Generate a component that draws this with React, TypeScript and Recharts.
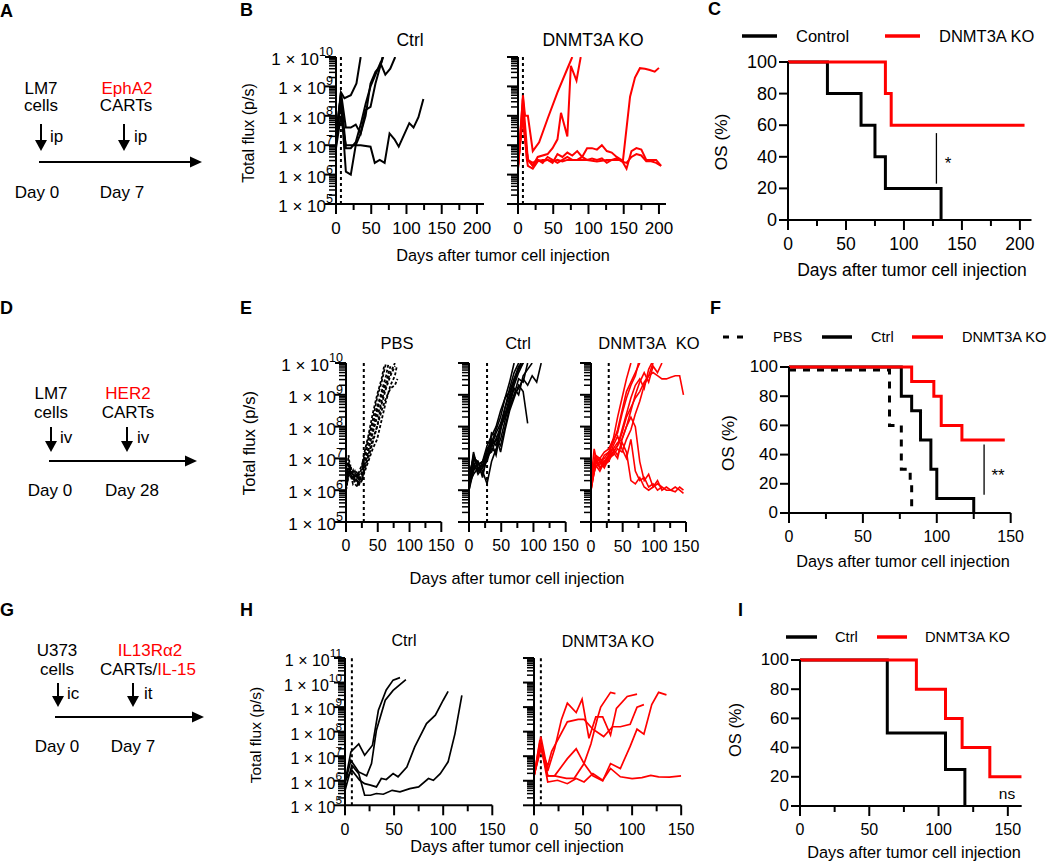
import { LineChart, Line, XAxis, YAxis, ReferenceLine } from 'recharts'

const FONT = '"Liberation Sans", Arial, Helvetica, sans-serif'
const RED = '#ff0000'
const INK = '#000'

// Bioluminescence curves, one array per mouse: [day, log10 total flux (p/s)]
// B: LM7 ip, EphA2 CARTs
const bCtrl = [
  [[0, 7.3], [7, 8.8], [12, 8.6], [21, 8.7], [29, 9.1], [35, 10]],
  [[0, 7.0], [7, 8.8], [14, 7.6], [21, 7.6], [28, 7.7], [35, 7.4], [42, 8.2], [49, 8.3], [56, 9.1], [63, 9.7], [67, 10]],
  [[0, 7.4], [7, 8.7], [14, 6.9], [21, 6.9], [28, 7.1], [35, 7.7], [42, 8.4], [49, 9.0], [56, 9.4], [63, 9.8], [70, 9.4], [77, 9.6], [84, 10]],
  [[0, 7.1], [7, 8.5], [14, 6.1], [21, 6.0], [28, 7.0], [35, 7.4], [42, 8.0], [49, 9.1], [56, 9.5], [63, 9.7], [66, 10]],
  [[0, 6.9], [7, 8.0], [14, 7.0], [20, 7.0], [35, 7.0], [49, 6.95], [55, 6.4], [62, 6.5], [69, 6.4], [76, 7.4], [83, 7.2], [89, 6.95], [104, 7.75], [110, 7.6], [117, 7.95], [124, 8.57]],
]
const bKo = [
  [[0, 6.2], [7, 8.7], [10, 8.0], [14, 8.0], [21, 6.8], [30, 7.1], [42, 7.9], [56, 8.8], [70, 9.6], [77, 10]],
  [[0, 6.3], [7, 8.1], [10, 7.3], [14, 6.5], [21, 6.3], [28, 6.6], [42, 6.7], [49, 6.9], [56, 7.2], [61, 8.1], [70, 7.3], [75, 9.7], [83, 9.2], [89, 10]],
  [[0, 6.3], [7, 8.0], [10, 7.2], [14, 6.5], [21, 6.4], [28, 6.5], [35, 6.4], [42, 6.6], [49, 6.5], [56, 6.4], [63, 6.5], [70, 6.6], [77, 6.5], [84, 6.5], [91, 6.6], [98, 6.9], [105, 6.9], [112, 6.85], [119, 7.0], [126, 6.8], [133, 6.75], [140, 6.6], [147, 6.5], [154, 6.2], [161, 6.8], [168, 6.9], [175, 6.85], [182, 6.5], [189, 6.5], [196, 6.5], [203, 6.3]],
  [[0, 6.2], [7, 8.3], [12, 6.6], [14, 6.3], [21, 6.2], [28, 6.45], [35, 6.5], [42, 6.5], [49, 6.4], [56, 6.7], [63, 6.6], [70, 6.75], [77, 6.65], [84, 6.8], [91, 6.6], [98, 6.5], [105, 6.55], [112, 6.5], [119, 6.55], [126, 6.4], [133, 6.5], [140, 6.55], [147, 6.45], [154, 6.4], [161, 6.6], [168, 6.7], [175, 6.65], [182, 6.45], [189, 6.45], [196, 6.4], [203, 6.3]],
  [[0, 6.3], [7, 8.6], [14, 6.5], [21, 6.3], [28, 6.5], [35, 6.45], [42, 6.5], [49, 6.45], [56, 6.5], [63, 6.45], [70, 6.5], [84, 6.5], [98, 6.5], [112, 6.45], [126, 6.5], [140, 6.5], [149, 6.5], [159, 8.65], [166, 9.3], [173, 9.62], [180, 9.6], [187, 9.56], [194, 9.5], [200, 9.63]],
]

// E: LM7 iv, HER2 CARTs
const ePbs = [
  [[0, 6.1], [4, 6.8], [7, 6.5], [11, 6.6], [14, 6.4], [18, 6.5], [21, 6.3], [25, 6.6], [28, 6.9], [35, 7.5], [42, 8.1], [49, 8.6], [56, 9.1], [63, 9.6], [67, 10]],
  [[0, 6.2], [4, 6.6], [7, 6.7], [11, 6.4], [14, 6.5], [18, 6.2], [21, 6.4], [25, 6.5], [28, 6.7], [35, 7.2], [42, 7.9], [49, 8.5], [56, 9.0], [63, 9.4], [70, 9.9]],
  [[0, 6.3], [4, 7.1], [7, 6.6], [11, 6.5], [14, 6.3], [18, 6.4], [21, 6.6], [25, 6.8], [28, 7.0], [35, 7.6], [42, 8.2], [49, 8.9], [56, 9.4], [63, 10]],
  [[0, 6.0], [4, 6.5], [7, 6.4], [11, 6.6], [14, 6.2], [18, 6.1], [21, 6.3], [25, 6.4], [28, 6.6], [35, 7.0], [42, 7.5], [49, 8.0], [56, 8.7], [63, 9.2], [70, 9.6], [77, 9.9]],
  [[0, 6.2], [4, 6.7], [7, 6.5], [11, 6.3], [14, 6.4], [18, 6.3], [21, 6.2], [25, 6.5], [28, 6.8], [35, 7.3], [42, 7.8], [49, 8.3], [56, 8.8], [63, 9.3], [70, 9.7], [77, 10]],
  [[0, 6.1], [4, 6.4], [7, 6.8], [11, 6.4], [14, 6.5], [18, 6.6], [21, 6.4], [25, 6.3], [28, 6.5], [35, 6.9], [42, 7.3], [49, 7.6], [56, 8.2], [63, 8.8], [70, 9.3], [77, 9.6], [80, 9.9]],
  [[0, 6.3], [4, 6.9], [7, 6.6], [11, 6.5], [14, 6.6], [18, 6.4], [21, 6.5], [25, 6.7], [28, 7.1], [35, 7.7], [42, 8.4], [49, 9.0], [56, 9.5], [60, 9.9]],
  [[0, 6.0], [4, 6.6], [7, 6.5], [11, 6.2], [14, 6.3], [18, 6.5], [21, 6.2], [25, 6.3], [28, 6.6], [35, 7.1], [42, 7.6], [49, 8.0], [56, 8.5], [63, 8.9], [70, 9.2], [77, 9.3], [81, 9.5]],
]
const eCtrl = [
  [[0, 6.0], [7, 6.8], [14, 6.6], [21, 6.7], [28, 7.0], [35, 7.5], [42, 7.9], [49, 8.3], [56, 8.9], [63, 9.4], [70, 10]],
  [[0, 6.1], [7, 7.0], [14, 6.7], [21, 6.5], [28, 7.0], [35, 7.3], [42, 7.2], [49, 7.9], [56, 8.6], [63, 9.2], [70, 9.7], [77, 10]],
  [[0, 6.3], [7, 7.1], [14, 6.8], [21, 6.9], [28, 7.2], [35, 7.6], [42, 7.4], [49, 8.0], [56, 8.4], [63, 8.9], [70, 9.5], [77, 9.8], [84, 10]],
  [[0, 6.0], [7, 6.6], [14, 6.9], [21, 6.6], [28, 6.2], [35, 6.9], [42, 7.3], [49, 7.6], [56, 8.2], [63, 8.8], [70, 9.3], [77, 9.7], [84, 10]],
  [[0, 6.2], [7, 7.2], [14, 6.6], [21, 6.8], [28, 7.1], [35, 7.2], [42, 7.6], [49, 7.4], [56, 8.0], [63, 8.6], [70, 9.0], [77, 9.5], [84, 9.4], [91, 10]],
  [[0, 6.4], [7, 6.9], [14, 6.5], [21, 6.7], [28, 7.3], [35, 7.5], [42, 7.1], [49, 7.9], [56, 8.4], [63, 8.7], [70, 9.2], [77, 9.0], [84, 9.6], [91, 9.8], [98, 10]],
  [[0, 6.1], [7, 6.7], [14, 6.8], [21, 6.9], [28, 7.0], [35, 7.8], [42, 7.7], [49, 7.2], [56, 7.9], [63, 8.5], [70, 8.9], [77, 9.3], [84, 9.1], [91, 8.1]],
  [[0, 6.5], [7, 7.0], [14, 6.9], [21, 6.4], [28, 7.1], [35, 7.4], [42, 7.6], [49, 8.0], [56, 8.3], [63, 8.6], [70, 9.0], [77, 9.2], [84, 9.5], [91, 9.3], [98, 9.6], [105, 9.4], [112, 10]],
  [[0, 6.2], [7, 6.5], [14, 6.7], [21, 6.8], [28, 6.9], [35, 7.4], [42, 7.8], [49, 8.1], [56, 8.6], [63, 9.0], [70, 9.4], [77, 9.8], [80, 10]],
  [[0, 6.3], [7, 6.8], [14, 6.6], [21, 6.9], [28, 7.4], [35, 7.7], [42, 8.0], [49, 8.5], [56, 8.9], [63, 9.1], [70, 9.5], [77, 9.9], [84, 10]],
]
const eKo = [
  [[0, 6.0], [7, 7.0], [14, 6.7], [21, 6.8], [28, 7.1], [35, 7.6], [42, 8.3], [49, 8.9], [56, 9.5], [63, 10]],
  [[0, 6.2], [7, 7.1], [14, 6.9], [21, 7.0], [28, 7.2], [35, 7.5], [42, 7.9], [49, 8.5], [56, 9.1], [63, 9.4], [70, 9.7], [77, 10]],
  [[0, 6.1], [7, 6.9], [14, 7.0], [21, 6.8], [28, 6.9], [35, 7.2], [42, 7.4], [49, 7.9], [56, 8.4], [63, 8.9], [70, 9.3], [77, 9.5], [84, 9.2], [91, 9.8], [96, 10]],
  [[0, 6.3], [5, 7.3], [10, 6.8], [14, 6.9], [21, 6.7], [28, 7.0], [35, 7.2], [42, 7.0], [49, 7.6], [56, 8.0], [63, 8.5], [70, 9.0], [77, 9.4], [84, 9.7], [91, 9.4], [98, 9.9], [105, 9.7], [112, 10]],
  [[0, 6.0], [7, 6.8], [14, 7.0], [21, 6.9], [28, 7.1], [35, 7.2], [42, 7.4], [49, 7.8], [56, 8.3], [63, 8.6], [70, 8.9], [77, 9.1], [84, 9.4], [91, 9.6], [98, 9.7], [105, 9.6], [112, 9.5], [119, 9.5], [126, 9.55], [133, 9.6], [140, 9.6], [146, 9.0]],
  [[0, 6.1], [7, 6.9], [14, 6.8], [21, 7.1], [28, 7.2], [35, 7.3], [42, 7.1], [49, 7.5], [56, 7.2], [63, 6.3], [70, 6.2], [77, 6.4], [84, 6.1], [91, 6.0], [98, 6.1], [105, 6.2], [112, 6.1]],
  [[0, 6.2], [7, 7.0], [14, 6.7], [21, 6.9], [28, 7.0], [35, 7.4], [42, 7.7], [49, 7.3], [56, 7.0], [63, 7.6], [70, 6.6], [77, 6.3], [84, 6.4], [91, 6.1], [98, 6.2], [105, 6.0], [112, 6.1], [119, 6.0], [126, 6.0], [133, 6.1], [140, 6.0], [146, 5.9]],
  [[0, 6.0], [7, 6.8], [14, 6.6], [21, 6.9], [28, 7.1], [35, 7.3], [42, 7.5], [49, 7.6], [56, 8.0], [63, 8.3], [70, 8.0], [77, 6.9], [84, 6.3], [91, 6.5], [98, 6.1], [105, 6.3], [112, 6.0], [119, 6.1], [126, 6.0], [133, 5.95], [140, 6.1], [146, 6.0]],
  [[0, 6.3], [7, 7.1], [14, 7.0], [21, 7.2], [28, 7.3], [35, 7.6], [42, 7.8], [49, 8.4], [56, 8.9], [63, 9.3], [70, 9.6], [75, 10]],
  [[0, 6.2], [7, 6.7], [14, 6.9], [21, 6.8], [28, 7.0], [35, 7.1], [42, 7.3], [49, 7.2], [56, 7.6], [63, 7.9], [70, 8.4], [77, 8.8], [84, 9.3], [91, 9.6], [98, 10]],
]

// H: U373 ic, IL13Ra2 CARTs/IL-15
const hCtrl = [
  [[0, 5.95], [6, 7.17], [14, 7.5], [20, 7.04], [28, 7.45], [34, 8.87], [42, 9.7], [49, 10.1], [56, 10.2]],
  [[0, 5.9], [6, 6.83], [14, 6.36], [22, 6.2], [27, 6.7], [32, 8.06], [41, 9.28], [49, 9.68], [62, 10.12]],
  [[0, 6.0], [7, 6.43], [15, 6.02], [20, 5.88], [26, 5.82], [32, 5.75], [37, 6.09], [42, 6.05], [49, 6.29], [54, 6.16], [63, 6.56], [71, 7.38], [83, 8.33], [92, 8.67], [100, 9.28], [105, 9.64]],
  [[0, 5.6], [7, 6.63], [14, 6.29], [20, 5.41], [26, 5.41], [32, 5.48], [39, 5.45], [48, 5.61], [56, 5.55], [66, 5.68], [75, 5.75], [85, 6.09], [90, 6.02], [97, 6.29], [105, 6.77], [112, 7.92], [119, 9.48]],
]
const hKo = [
  [[0, 6.2], [7, 7.8], [14, 6.4], [21, 7.3], [28, 8.5], [34, 9.16], [43, 8.78], [49, 9.32], [56, 7.73], [63, 8.6], [70, 8.6], [78, 7.86], [84, 8.95], [95, 9.43], [105, 9.53]],
  [[0, 6.2], [7, 7.3], [14, 6.6], [18, 7.2], [34, 8.4], [45, 8.5], [51, 8.5], [60, 8.1], [71, 7.8], [80, 8.2], [88, 8.2], [98, 8.3], [105, 9.0], [112, 9.1]],
  [[0, 6.2], [7, 7.4], [14, 6.2], [21, 6.2], [34, 6.9], [43, 7.3], [51, 6.7], [60, 6.2], [70, 6.0], [78, 6.7], [88, 6.5], [98, 7.4], [105, 8.1], [112, 7.9], [120, 9.1], [127, 9.6], [135, 9.5]],
  [[0, 6.2], [7, 7.5], [14, 6.2], [21, 6.2], [33, 6.1], [41, 6.1], [51, 6.7], [58, 7.5], [65, 8.6], [68, 9.0], [78, 9.6], [83, 9.55]],
  [[0, 6.16], [6, 7.66], [14, 5.95], [24, 6.02], [34, 5.88], [43, 6.09], [51, 5.95], [60, 6.29], [70, 6.02], [78, 6.5], [88, 6.16], [100, 6.09], [110, 6.13], [119, 6.22], [127, 6.16], [138, 6.15], [150, 6.2]],
]

// Overall survival (%), step curves: event days and survival after each
const cCtrlDays = [0, 34, 63, 75, 84, 132]
const cCtrlOs = [100, 80, 60, 40, 20, 0]
const cKoDays = [0, 84, 89, 204]
const cKoOs = [100, 80, 60, 60]
const fPbsDays = [0, 68, 76, 82, 83]
const fPbsOs = [98, 60, 30, 20, 0]
const fCtrlDays = [0, 76, 83, 89, 96, 100, 125]
const fCtrlOs = [100, 80, 70, 50, 30, 10, 0]
const fKoDays = [0, 83, 98, 103, 117, 146]
const fKoOs = [100, 90, 80, 60, 50, 50]
const iCtrlDays = [0, 63, 105, 119]
const iCtrlOs = [100, 50, 25, 0]
const iKoDays = [0, 84, 105, 117, 137, 160]
const iKoOs = [100, 80, 60, 40, 20, 20]

const osTicks = [0, 20, 40, 60, 80, 100]
const days210 = [0, 25, 50, 75, 100, 125, 150, 175, 200]
const days150 = [0, 25, 50, 75, 100, 125, 150]
const logMult = [1, 2, 3, 4, 5, 6, 7, 8, 9]

const logTicks = (lo: number, hi: number) => {
  const t: number[] = []
  for (let e = lo; e < hi; e++) logMult.forEach((k) => t.push(k * 10 ** e))
  t.push(10 ** hi)
  return t
}
const toFlux = (l: number[][]) => l.map(([d, e]) => ({ d, v: 10 ** e }))
const toOs = (days: number[], os: number[]) => days.map((d, i) => ({ d, v: os[i] }))

function XTick(props: any) {
  const { x, y, payload, fs } = props
  const major = payload.value % 50 === 0
  return (
    <g>
      <line x1={x} x2={x} y1={y} y2={y + (major ? 10 : 6)} stroke={INK} strokeWidth={2} />
      {major && (
        <text x={x} y={y + 24} textAnchor="middle" dominantBaseline="central" fontSize={fs} fontFamily={FONT} fill={INK}>
          {payload.value}
        </text>
      )}
    </g>
  )
}

function LogYTick(props: any) {
  const { x, y, payload, labels, fs } = props
  const e = Math.log10(payload.value)
  const major = Math.abs(e - Math.round(e)) < 1e-9
  return (
    <g>
      <line x1={x} x2={x - (major ? 11 : 7)} y1={y} y2={y} stroke={INK} strokeWidth={major ? 2 : 1.5} />
      {major && labels && (
        <text x={x - 3} y={y + 8} textAnchor="end" fontSize={fs} fontFamily={FONT} fill={INK}>
          1 × 10<tspan dy={-9} fontSize={fs * 0.74}>{Math.round(e)}</tspan>
        </text>
      )}
    </g>
  )
}

function PctTick(props: any) {
  const { x, y, payload, fs } = props
  return (
    <g>
      <line x1={x} x2={x - 9} y1={y} y2={y} stroke={INK} strokeWidth={2} />
      <text x={x - 11} y={y} textAnchor="end" dominantBaseline="central" fontSize={fs} fontFamily={FONT} fill={INK}>
        {payload.value}
      </text>
    </g>
  )
}

const PAD = { l: 110, r: 14, t: 14, b: 40 }

type FluxProps = {
  box: number[]
  xMax: number
  xTicks: number[]
  exps: number[]
  labels: boolean
  lines: number[][][]
  color: string
  dashed?: boolean
  lw: number
  inj: number
  fsX: number
  fsY: number
}

function FluxChart({ box, xMax, xTicks, exps, labels, lines, color, dashed, lw, inj, fsX, fsY }: FluxProps) {
  const [x0, y0, x1, y1] = box
  return (
    <div style={{ position: 'absolute', left: x0 - PAD.l, top: y0 - PAD.t }}>
      <LineChart
        width={x1 - x0 + PAD.l + PAD.r}
        height={y1 - y0 + PAD.t + PAD.b}
        margin={{ top: PAD.t, right: PAD.r, bottom: 0, left: 0 }}
      >
        <XAxis
          type="number"
          dataKey="d"
          domain={[0, xMax]}
          ticks={xTicks}
          interval={0}
          allowDataOverflow
          height={PAD.b}
          tickSize={0}
          tickMargin={0}
          tickLine={false}
          axisLine={{ stroke: INK, strokeWidth: 2 }}
          tick={(p: any) => <XTick {...p} fs={fsX} />}
        />
        <YAxis
          type="number"
          scale="log"
          domain={[10 ** exps[0], 10 ** exps[1]]}
          ticks={logTicks(exps[0], exps[1])}
          interval={0}
          allowDataOverflow
          width={PAD.l}
          tickSize={0}
          tickMargin={0}
          tickLine={false}
          axisLine={{ stroke: INK, strokeWidth: 2 }}
          tick={(p: any) => <LogYTick {...p} labels={labels} fs={fsY} />}
        />
        <ReferenceLine x={inj} stroke={INK} strokeWidth={2} strokeDasharray="3 3" />
        {lines.map((l, i) => (
          <Line
            key={i}
            data={toFlux(l)}
            dataKey="v"
            type="linear"
            stroke={color}
            strokeWidth={lw}
            strokeDasharray={dashed ? '3 2' : undefined}
            dot={false}
            isAnimationActive={false}
          />
        ))}
      </LineChart>
    </div>
  )
}

type OsSeries = { days: number[]; os: number[]; color: string; dash?: string }

function OsChart({ box, xMax, xTicks, series, sig, fsX, fsY }: { box: number[]; xMax: number; xTicks: number[]; series: OsSeries[]; sig?: number[]; fsX: number; fsY: number }) {
  const [x0, y0, x1, y1] = box
  return (
    <div style={{ position: 'absolute', left: x0 - PAD.l, top: y0 - PAD.t }}>
      <LineChart
        width={x1 - x0 + PAD.l + PAD.r}
        height={y1 - y0 + PAD.t + PAD.b}
        margin={{ top: PAD.t, right: PAD.r, bottom: 0, left: 0 }}
      >
        <XAxis
          type="number"
          dataKey="d"
          domain={[0, xMax]}
          ticks={xTicks}
          interval={0}
          allowDataOverflow
          height={PAD.b}
          tickSize={0}
          tickMargin={0}
          tickLine={false}
          axisLine={{ stroke: INK, strokeWidth: 2 }}
          tick={(p: any) => <XTick {...p} fs={fsX} />}
        />
        <YAxis
          type="number"
          domain={[0, 100]}
          ticks={osTicks}
          interval={0}
          width={PAD.l}
          tickSize={0}
          tickMargin={0}
          tickLine={false}
          axisLine={{ stroke: INK, strokeWidth: 2 }}
          tick={(p: any) => <PctTick {...p} fs={fsY} />}
        />
        {sig && (
          <ReferenceLine
            segment={[{ x: sig[0], y: sig[1] }, { x: sig[0], y: sig[2] }]}
            stroke={INK}
            strokeWidth={1.3}
          />
        )}
        {series.map((s, i) => (
          <Line
            key={i}
            data={toOs(s.days, s.os)}
            dataKey="v"
            type="stepAfter"
            stroke={s.color}
            strokeWidth={3}
            strokeDasharray={s.dash}
            dot={false}
            isAnimationActive={false}
          />
        ))}
      </LineChart>
    </div>
  )
}

function T({ x, y, s = 17, a = 'middle', w, c = INK, r, ws, children }: any) {
  return (
    <text
      x={x}
      y={y}
      fontSize={s}
      textAnchor={a}
      dominantBaseline="central"
      fontWeight={w}
      fill={c}
      fontFamily={FONT}
      wordSpacing={ws}
      transform={r ? `rotate(-90 ${x} ${y})` : undefined}
    >
      {children}
    </text>
  )
}

function VArrow({ x, y0, y1 }: { x: number; y0: number; y1: number }) {
  return (
    <g>
      <line x1={x} x2={x} y1={y0} y2={y1 - 9} stroke={INK} strokeWidth={2} />
      <polygon points={`${x - 6},${y1 - 11} ${x + 6},${y1 - 11} ${x},${y1}`} fill={INK} />
    </g>
  )
}

function HArrow({ x0, x1, y }: { x0: number; x1: number; y: number }) {
  return (
    <g>
      <line x1={x0} x2={x1 - 10} y1={y} y2={y} stroke={INK} strokeWidth={2} />
      <polygon points={`${x1 - 12},${y - 5.5} ${x1 - 12},${y + 5.5} ${x1},${y}`} fill={INK} />
    </g>
  )
}

function Overlay() {
  return (
    <svg width={1050} height={864} style={{ position: 'absolute', left: 0, top: 0, pointerEvents: 'none' }}>
      {/* panel letters */}
      <T x={0} y={11} s={18} w="bold" a="start">A</T>
      <T x={240} y={10} s={18} w="bold" a="start">B</T>
      <T x={708} y={9} s={18} w="bold" a="start">C</T>
      <T x={0} y={308} s={18} w="bold" a="start">D</T>
      <T x={240} y={308} s={18} w="bold" a="start">E</T>
      <T x={710} y={308} s={18} w="bold" a="start">F</T>
      <T x={0} y={610} s={18} w="bold" a="start">G</T>
      <T x={240} y={610} s={18} w="bold" a="start">H</T>
      <T x={738} y={610} s={18} w="bold" a="start">I</T>

      {/* A schematic */}
      <T x={41} y={88}>LM7</T>
      <T x={41} y={105}>cells</T>
      <T x={127} y={88} c={RED}>EphA2</T>
      <T x={126} y={105}>CARTs</T>
      <VArrow x={41} y0={124} y1={151} />
      <VArrow x={124} y0={124} y1={151} />
      <T x={50} y={136} a="start">ip</T>
      <T x={134} y={136} a="start">ip</T>
      <HArrow x0={39} x1={202} y={162} />
      <T x={37} y={192}>Day 0</T>
      <T x={122} y={192}>Day 7</T>

      {/* D schematic */}
      <T x={51} y={393}>LM7</T>
      <T x={51} y={412}>cells</T>
      <T x={128} y={393} c={RED}>HER2</T>
      <T x={128} y={412}>CARTs</T>
      <VArrow x={51} y0={427} y1={452} />
      <VArrow x={127} y0={427} y1={452} />
      <T x={60} y={437} a="start">iv</T>
      <T x={137} y={437} a="start">iv</T>
      <HArrow x0={49} x1={197} y={461} />
      <T x={50} y={490}>Day 0</T>
      <T x={132} y={490}>Day 28</T>

      {/* G schematic */}
      <T x={57} y={650}>U373</T>
      <T x={57} y={669}>cells</T>
      <T x={150} y={650} c={RED}>IL13Rα2</T>
      <text x={148} y={669} fontSize={17} textAnchor="middle" dominantBaseline="central" fontFamily={FONT} fill={INK}>
        CARTs/<tspan fill={RED}>IL-15</tspan>
      </text>
      <VArrow x={58} y0={683} y1={707} />
      <VArrow x={133} y0={683} y1={707} />
      <T x={67} y={693} a="start">ic</T>
      <T x={144} y={693} a="start">it</T>
      <HArrow x0={55} x1={204} y={717} />
      <T x={57} y={746}>Day 0</T>
      <T x={133} y={746}>Day 7</T>

      {/* B titles and labels */}
      <T x={410} y={40} s={17.5}>Ctrl</T>
      <T x={593} y={40} s={17.5}>DNMT3A KO</T>
      <T x={248} y={133} s={16} r>Total flux (p/s)</T>
      <T x={503} y={255} s={16.3}>Days after tumor cell injection</T>

      {/* C legend and labels */}
      <line x1={742} x2={777} y1={36} y2={36} stroke={INK} strokeWidth={3.5} />
      <T x={796} y={36} s={16.5} a="start">Control</T>
      <line x1={885} x2={920} y1={36} y2={36} stroke={RED} strokeWidth={3.5} />
      <T x={939} y={36} s={16.5} a="start">DNMT3A KO</T>
      <T x={721} y={142} s={17.3} r>OS (%)</T>
      <T x={912} y={270} s={17.5}>Days after tumor cell injection</T>
      <T x={948} y={163} s={17}>*</T>

      {/* E titles and labels */}
      <T x={397} y={343} s={16.5}>PBS</T>
      <T x={518} y={343} s={16.5}>Ctrl</T>
      <T x={649} y={343} s={16.5} ws={6}>DNMT3A KO</T>
      <T x={249} y={443} s={16.8} r>Total flux (p/s)</T>
      <T x={517} y={578} s={16.4}>Days after tumor cell injection</T>

      {/* F legend and labels */}
      <line x1={723} x2={745} y1={337} y2={337} stroke={INK} strokeWidth={3} strokeDasharray="6 8" />
      <T x={773} y={337} s={14.6} a="start">PBS</T>
      <line x1={822} x2={852} y1={337} y2={337} stroke={INK} strokeWidth={3.5} />
      <T x={871} y={337} s={14.6} a="start">Ctrl</T>
      <line x1={912} x2={943} y1={337} y2={337} stroke={RED} strokeWidth={3.5} />
      <T x={962} y={337} s={14.6} a="start">DNMT3A KO</T>
      <T x={728} y={443} s={17} r>OS (%)</T>
      <T x={903} y={561} s={16.3}>Days after tumor cell injection</T>
      <T x={998} y={475} s={17}>**</T>

      {/* H titles and labels */}
      <T x={404} y={640} s={16}>Ctrl</T>
      <T x={608} y={641} s={16}>DNMT3A KO</T>
      <T x={255} y={735} s={15.5} r>Total flux (p/s)</T>
      <T x={517} y={846} s={16.3}>Days after tumor cell injection</T>

      {/* I legend and labels */}
      <line x1={786} x2={817} y1={637} y2={637} stroke={INK} strokeWidth={3.5} />
      <T x={835} y={637} s={14.7} a="start">Ctrl</T>
      <line x1={877} x2={907} y1={637} y2={637} stroke={RED} strokeWidth={3.5} />
      <T x={925} y={637} s={14.7} a="start">DNMT3A KO</T>
      <T x={735} y={730} s={16.5} r>OS (%)</T>
      <T x={914} y={852} s={16.3}>Days after tumor cell injection</T>
      <T x={1007} y={793} s={15.5}>ns</T>
    </svg>
  )
}

export default function App() {
  return (
    <div
      style={{
        position: 'absolute',
        left: 0,
        top: 0,
        width: 1050,
        height: 864,
        background: '#fff',
        overflow: 'hidden',
        fontFamily: FONT,
      }}
    >
      <FluxChart box={[335.5, 57, 483.5, 204]} xMax={210} xTicks={days210} exps={[5, 10]} labels lines={bCtrl} color={INK} lw={2} inj={7} fsX={17} fsY={17} />
      <FluxChart box={[518, 57, 666, 204]} xMax={210} xTicks={days210} exps={[5, 10]} labels={false} lines={bKo} color={RED} lw={2} inj={7} fsX={17} fsY={17} />
      <OsChart
        box={[788, 62, 1031.5, 220]}
        xMax={210}
        xTicks={days210}
        series={[
          { days: cCtrlDays, os: cCtrlOs, color: INK },
          { days: cKoDays, os: cKoOs, color: RED },
        ]}
        sig={[128, 55, 23]}
        fsX={17.5}
        fsY={18}
      />

      <FluxChart box={[345.7, 363.3, 441, 522.3]} xMax={150} xTicks={days150} exps={[5, 10]} labels lines={ePbs} color={INK} dashed lw={1.8} inj={28} fsX={16} fsY={17} />
      <FluxChart box={[469, 363.3, 565.7, 522.3]} xMax={150} xTicks={days150} exps={[5, 10]} labels={false} lines={eCtrl} color={INK} lw={1.6} inj={28} fsX={16} fsY={17} />
      <FluxChart box={[590.7, 363.3, 685.7, 522.3]} xMax={150} xTicks={days150} exps={[5, 10]} labels={false} lines={eKo} color={RED} lw={1.6} inj={28} fsX={16} fsY={17} />
      <OsChart
        box={[789.3, 367.3, 1011, 513.3]}
        xMax={150}
        xTicks={days150}
        series={[
          { days: fPbsDays, os: fPbsOs, color: INK, dash: '7 7' },
          { days: fCtrlDays, os: fCtrlOs, color: INK },
          { days: fKoDays, os: fKoOs, color: RED },
        ]}
        sig={[132, 47, 12.5]}
        fsX={16}
        fsY={17}
      />

      <FluxChart box={[345, 657.7, 492.3, 805]} xMax={150} xTicks={days150} exps={[5, 11]} labels lines={hCtrl} color={INK} lw={1.7} inj={7} fsX={16} fsY={16} />
      <FluxChart box={[533.5, 657.7, 680.7, 805]} xMax={150} xTicks={days150} exps={[5, 11]} labels={false} lines={hKo} color={RED} lw={1.7} inj={7} fsX={16} fsY={16} />
      <OsChart
        box={[800, 660, 1021.7, 806]}
        xMax={160}
        xTicks={days150}
        series={[
          { days: iCtrlDays, os: iCtrlOs, color: INK },
          { days: iKoDays, os: iKoOs, color: RED },
        ]}
        fsX={16}
        fsY={17}
      />

      <Overlay />
    </div>
  )
}
